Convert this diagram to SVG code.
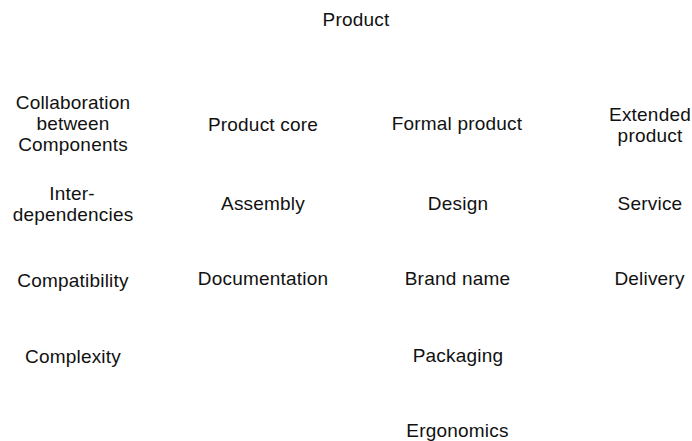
<svg xmlns="http://www.w3.org/2000/svg" width="692" height="441" viewBox="0 0 692 441">
  <style>
    .lbl { font-family: "Liberation Sans", Arial, sans-serif; font-size: 19px; fill: #111; text-anchor: middle; letter-spacing: 0.2px; }
  </style>
  <rect x="0" y="0" width="692" height="441" fill="#ffffff"/>
  <g id="connectors"></g>
  <g id="product"><text class="lbl" x="356" y="25.5">Product</text></g>

  <g id="collaboration">
    <text class="lbl" x="73" y="109">Collaboration</text>
    <text class="lbl" x="73" y="130">between</text>
    <text class="lbl" x="73" y="151">Components</text>
  </g>
  <g id="product-core"><text class="lbl" x="263" y="130.5">Product core</text></g>
  <g id="formal-product"><text class="lbl" x="457" y="130">Formal product</text></g>
  <g id="extended-product">
    <text class="lbl" x="650" y="121">Extended</text>
    <text class="lbl" x="650" y="141.5">product</text>
  </g>

  <g id="interdependencies">
    <text class="lbl" x="72" y="200">Inter-</text>
    <text class="lbl" x="73" y="221">dependencies</text>
  </g>
  <g id="assembly"><text class="lbl" x="263" y="210">Assembly</text></g>
  <g id="design"><text class="lbl" x="458" y="210">Design</text></g>
  <g id="service"><text class="lbl" x="650" y="210">Service</text></g>

  <g id="compatibility"><text class="lbl" x="73" y="287">Compatibility</text></g>
  <g id="documentation"><text class="lbl" x="263" y="285">Documentation</text></g>
  <g id="brand-name"><text class="lbl" x="457.5" y="285">Brand name</text></g>
  <g id="delivery"><text class="lbl" x="649.5" y="285">Delivery</text></g>

  <g id="complexity"><text class="lbl" x="73" y="362.5">Complexity</text></g>
  <g id="packaging"><text class="lbl" x="458" y="362">Packaging</text></g>

  <g id="ergonomics"><text class="lbl" x="457.5" y="436.5">Ergonomics</text></g>
</svg>
